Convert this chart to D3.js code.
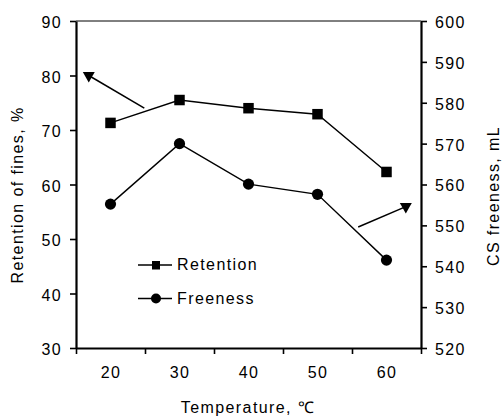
<!DOCTYPE html>
<html>
<head>
<meta charset="utf-8">
<script src="https://cdn.jsdelivr.net/npm/d3@7/dist/d3.min.js"></script>
<style>
  html, body { margin: 0; padding: 0; background: #fff; }
  svg { display: block; }
  text { font-family: "Liberation Sans", Arial, Helvetica, sans-serif; fill: #000; }
</style>
</head>
<body>
<svg id="chart" width="502" height="416"></svg>
<script>
// Temperature (°C) and the two measured series
const temperatures = [20, 30, 40, 50, 60];
const retention = [71.3, 75.5, 74.0, 72.9, 62.3];   // left axis, %
const freeness = [555.2, 570.0, 560.1, 557.6, 541.5]; // right axis, mL

// Axis ticks
const xTickMarks = [15, 25, 35, 45, 55, 65];
const xTickLabels = [20, 30, 40, 50, 60];
const leftTicks = [30, 40, 50, 60, 70, 80, 90];
const rightTicks = [520, 530, 540, 550, 560, 570, 580, 590, 600];

// Pointer arrows linking each curve to its axis (data units: [x, y] from -> to)
const retentionArrow = [[24.9, 74.0], [16.85, 80.0]];
const freenessArrow = [[55.9, 549.6], [62.8, 554.6]];

const svg = d3.select("#chart");
const plotLeft = 76, plotRight = 421, plotTop = 21, plotBottom = 348;
const fontSize = 16, spacing = "1.4px";

const x = d3.scaleLinear().domain([15, 65]).range([plotLeft, plotRight]);
const yL = d3.scaleLinear().domain([30, 90]).range([plotBottom, plotTop]);
const yR = d3.scaleLinear().domain([520, 600]).range([plotBottom, plotTop]);

// top frame line (thin)
svg.append("line")
  .attr("x1", plotLeft).attr("x2", plotRight).attr("y1", plotTop).attr("y2", plotTop)
  .attr("stroke", "#000").attr("stroke-width", 1);

function styleAxis(g) {
  g.select(".domain").attr("stroke-width", 2.2);
  g.selectAll(".tick line").attr("stroke-width", 1.6);
  g.selectAll("text")
    .attr("font-size", fontSize)
    .attr("font-family", "Liberation Sans, Arial, sans-serif")
    .style("letter-spacing", spacing)
    .attr("fill", "#000");
}

// bottom axis: tick marks between labels
svg.append("g")
  .attr("transform", `translate(0,${plotBottom})`)
  .call(d3.axisBottom(x).tickValues(xTickMarks).tickSize(6).tickSizeOuter(0).tickFormat(""))
  .call(styleAxis);

// bottom axis labels centred on the data positions
svg.append("g")
  .attr("transform", `translate(0,${plotBottom})`)
  .call(d3.axisBottom(x).tickValues(xTickLabels).tickSize(0).tickPadding(19))
  .call(g => g.select(".domain").remove())
  .call(styleAxis);

// left axis
svg.append("g")
  .attr("transform", `translate(${plotLeft},0)`)
  .call(d3.axisLeft(yL).tickValues(leftTicks).tickSize(6).tickSizeOuter(0).tickPadding(8))
  .call(styleAxis)
  .call(g => g.selectAll("text").attr("dy", "0.42em"));

// right axis
svg.append("g")
  .attr("transform", `translate(${plotRight},0)`)
  .call(d3.axisRight(yR).tickValues(rightTicks).tickSize(6).tickSizeOuter(0).tickPadding(8))
  .call(styleAxis)
  .call(g => g.selectAll("text").attr("dy", "0.40em"));

// axis titles
svg.append("text")
  .attr("transform", `translate(23,195) rotate(-90)`)
  .attr("text-anchor", "middle")
  .attr("font-size", fontSize)
  .style("letter-spacing", spacing)
  .text("Retention of fines, %");

svg.append("text")
  .attr("transform", `translate(499,196) rotate(-90)`)
  .attr("text-anchor", "middle")
  .attr("font-size", fontSize)
  .style("letter-spacing", spacing)
  .text("CS freeness, mL");

svg.append("text")
  .attr("x", 248).attr("y", 413)
  .attr("text-anchor", "middle")
  .attr("font-size", fontSize)
  .style("letter-spacing", spacing)
  .text("Temperature, \u2103");

// series lines
const retLine = d3.line().x((d, i) => x(temperatures[i])).y(d => yL(d));
const freeLine = d3.line().x((d, i) => x(temperatures[i])).y(d => yR(d));

svg.append("path").datum(retention)
  .attr("d", retLine).attr("fill", "none").attr("stroke", "#000").attr("stroke-width", 1.4);
svg.append("path").datum(freeness)
  .attr("d", freeLine).attr("fill", "none").attr("stroke", "#000").attr("stroke-width", 1.4);

// markers
const sq = 10.5;
svg.append("g").selectAll("rect").data(retention).join("rect")
  .attr("x", (d, i) => x(temperatures[i]) - sq / 2)
  .attr("y", d => yL(d) - sq / 2)
  .attr("width", sq).attr("height", sq).attr("fill", "#000");

svg.append("g").selectAll("circle").data(freeness).join("circle")
  .attr("cx", (d, i) => x(temperatures[i]))
  .attr("cy", d => yR(d))
  .attr("r", 5.6).attr("fill", "#000");

// pointer arrows with downward triangle heads
const tri = d3.symbol().type(d3.symbolTriangle).size(62);
function drawArrow(pts, yScale) {
  const [a, b] = pts;
  svg.append("line")
    .attr("x1", x(a[0])).attr("y1", yScale(a[1]))
    .attr("x2", x(b[0])).attr("y2", yScale(b[1]))
    .attr("stroke", "#000").attr("stroke-width", 1.5);
  svg.append("path")
    .attr("d", tri())
    .attr("transform", `translate(${x(b[0])},${yScale(b[1])}) rotate(180)`)
    .attr("fill", "#000");
}
drawArrow(retentionArrow, yL);
drawArrow(freenessArrow, yR);

// legend
const legend = svg.append("g");
const items = [
  { label: "Retention", shape: "square", y: 265 },
  { label: "Freeness", shape: "circle", y: 298.5 }
];
items.forEach(it => {
  legend.append("line")
    .attr("x1", 138).attr("x2", 172).attr("y1", it.y).attr("y2", it.y)
    .attr("stroke", "#000").attr("stroke-width", 1.4);
  if (it.shape === "square") {
    legend.append("rect")
      .attr("x", 156 - 4).attr("y", it.y - 4).attr("width", 8).attr("height", 8.5).attr("fill", "#000");
  } else {
    legend.append("circle").attr("cx", 156).attr("cy", it.y).attr("r", 5).attr("fill", "#000");
  }
  legend.append("text")
    .attr("x", 177).attr("y", it.y + 5.3)
    .attr("font-size", fontSize)
    .style("letter-spacing", spacing)
    .text(it.label);
});
</script>
</body>
</html>
